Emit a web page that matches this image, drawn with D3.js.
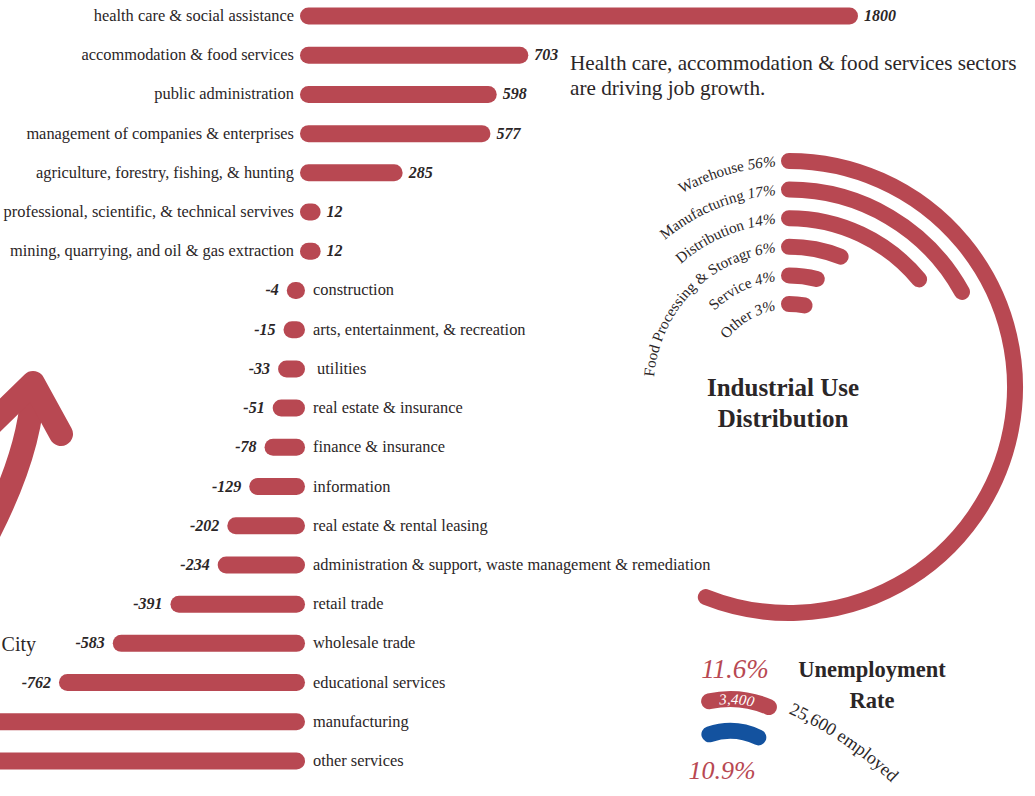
<!DOCTYPE html>
<html>
<head>
<meta charset="utf-8">
<script src="https://cdn.jsdelivr.net/npm/d3@7"></script>
<style>
  html, body { margin: 0; padding: 0; background: #fff; }
  svg { display: block; font-family: "Liberation Serif", "Times New Roman", serif; }
</style>
</head>
<body>
<svg id="chart" width="1035" height="796"></svg>
<script>
// Net job change by sector
const sectors = [
  "health care & social assistance",
  "accommodation & food services",
  "public administration",
  "management of companies & enterprises",
  "agriculture, forestry, fishing, & hunting",
  "professional, scientific, & technical servives",
  "mining, quarrying, and oil & gas extraction",
  "construction",
  "arts, entertainment, & recreation",
  " utilities",
  "real estate & insurance",
  "finance & insurance",
  "information",
  "real estate & rental leasing",
  "administration & support, waste management & remediation",
  "retail trade",
  "wholesale trade",
  "educational services",
  "manufacturing",
  "other services"
];
const jobChange = [1800, 703, 598, 577, 285, 12, 12, -4, -15, -33, -51, -78, -129, -202, -234, -391, -583, -762, -1150, -1400];

// Industrial use distribution
const useTypes = ["Warehouse", "Manufacturing", "Distribution", "Food Processing & Storagr", "Service", "Other"];
const useShare = [56, 17, 14, 6, 4, 3];

// Unemployment
const rateLabels = ["11.6%", "10.9%"];
const unemployedCount = "3,400";
const employedCount = "25,600 employed";

const RED = "#b84852", BLUE = "#13529f", INK = "#2b2627";
const svg = d3.select("#chart");

// ---------- sector bars ----------
const rowY = d3.scalePoint().domain(sectors).range([16, 761]);
const len = d3.scaleLinear().domain([0, 1800]).range([0, 541]);
const barH = 17, posX = 300, negX = 305;

const rowData = sectors.map((s, i) => ({ s, v: jobChange[i] }));
const rows = svg.append("g").selectAll("g").data(rowData).join("g")
  .attr("transform", d => `translate(0,${rowY(d.s)})`);

rows.append("rect")
  .attr("x", d => d.v >= 0 ? posX : negX - barH - len(-d.v))
  .attr("y", -barH / 2)
  .attr("height", barH)
  .attr("width", d => barH + len(Math.abs(d.v)))
  .attr("rx", barH / 2)
  .attr("fill", RED);

rows.append("text")
  .attr("x", d => d.v >= 0 ? 294 : 313)
  .attr("y", 5)
  .attr("text-anchor", d => d.v >= 0 ? "end" : "start")
  .style("white-space", "pre")
  .attr("font-size", 16.4)
  .attr("fill", INK)
  .text(d => d.s);

rows.append("text")
  .attr("x", d => d.v >= 0 ? posX + barH + len(d.v) + 6 : negX - barH - len(-d.v) - 8)
  .attr("y", 5)
  .attr("text-anchor", d => d.v >= 0 ? "start" : "end")
  .attr("font-size", 16)
  .attr("font-style", "italic")
  .attr("font-weight", "bold")
  .attr("fill", INK)
  .text(d => d.v);

// headline
const head = svg.append("text").attr("x", 570).attr("y", 70)
  .attr("font-size", 21.2).attr("fill", INK);
head.append("tspan").attr("x", 570).text("Health care, accommodation & food services sectors");
head.append("tspan").attr("x", 570).attr("dy", 25).text("are driving job growth.");

// ---------- growth arrow ----------
const arrow = svg.append("g").attr("fill", "none").attr("stroke", RED)
  .attr("stroke-width", 24).attr("stroke-linecap", "round").attr("stroke-linejoin", "round");
const shaft = d3.path();
shaft.moveTo(-15, 540); shaft.quadraticCurveTo(32, 450, 33, 385);
arrow.append("path").attr("d", shaft.toString());
const head2 = d3.path();
head2.moveTo(-8, 423); head2.lineTo(33, 383); head2.lineTo(61, 434);
arrow.append("path").attr("d", head2.toString());

svg.append("text").attr("x", 36).attr("y", 651).attr("text-anchor", "end")
  .attr("font-size", 20).attr("fill", INK).text("City");

// ---------- industrial use rings ----------
const cx = 789, cy = 387;
const angle = d3.scaleLinear().domain([0, 100]).range([0, 2 * Math.PI]);
const ringR = d3.scalePoint().domain(useTypes).range([226, 83]);

function arcD(x, y, r, a0, a1) {
  const p = d3.path();
  p.arc(x, y, r, a0 - Math.PI / 2, a1 - Math.PI / 2, a1 < a0);
  return p.toString();
}

const ringData = useTypes.map((t, i) => ({ t, p: useShare[i], i }));
const defs = svg.append("defs");
const rings = svg.append("g");
rings.selectAll("path").data(ringData).join("path")
  .attr("d", d => arcD(cx, cy, ringR(d.t), 0, angle(d.p)))
  .attr("fill", "none").attr("stroke", RED).attr("stroke-width", 16)
  .attr("stroke-linecap", "round");

defs.selectAll("path").data(ringData).join("path")
  .attr("id", d => "ring-label-" + d.i)
  .attr("d", d => {
    const rb = ringR(d.t) - 5;
    return arcD(cx, cy, rb, -2.6, -13 / rb);
  });

const ringLabels = svg.append("g").selectAll("text").data(ringData).join("text")
  .attr("font-size", 15.2).attr("fill", INK);
const tp = ringLabels.append("textPath")
  .attr("href", d => "#ring-label-" + d.i)
  .attr("startOffset", "100%").attr("text-anchor", "end");
tp.append("tspan").text(d => d.t + " ");
tp.append("tspan").attr("font-style", "italic").text(d => d.p + "%");

const ttl = svg.append("text").attr("text-anchor", "middle").attr("font-size", 25)
  .attr("font-weight", "bold").attr("fill", INK);
ttl.append("tspan").attr("x", 783).attr("y", 396).text("Industrial Use");
ttl.append("tspan").attr("x", 783).attr("y", 427).text("Distribution");

// ---------- unemployment ----------
const ux = 730, uy = 797;
const deg = d3.scaleLinear().domain([0, 360]).range([0, 2 * Math.PI]);
svg.append("path").attr("d", arcD(ux, uy, 98, deg(-12.3), deg(23.4)))
  .attr("fill", "none").attr("stroke", RED).attr("stroke-width", 16).attr("stroke-linecap", "round");
svg.append("path").attr("d", arcD(ux, uy, 66, deg(-18.2), deg(25.4)))
  .attr("fill", "none").attr("stroke", BLUE).attr("stroke-width", 16).attr("stroke-linecap", "round");

defs.append("path").attr("id", "unemp-path").attr("d", arcD(ux, uy, 93, deg(-20), deg(30)));
svg.append("text").attr("font-size", 15).attr("font-style", "italic").attr("fill", "#fff")
  .append("textPath").attr("href", "#unemp-path").attr("startOffset", "48%")
  .attr("text-anchor", "middle").text(unemployedCount);

defs.append("path").attr("id", "emp-path").attr("d", arcD(641, 1044, 362, deg(24), deg(52)));
svg.append("text").attr("font-size", 18).attr("fill", INK)
  .append("textPath").attr("href", "#emp-path").attr("startOffset", "0%")
  .text(employedCount);

svg.append("text").attr("x", 735).attr("y", 678).attr("text-anchor", "middle")
  .attr("font-size", 27).attr("font-style", "italic").attr("fill", RED).text(rateLabels[0]);
svg.append("text").attr("x", 722).attr("y", 779).attr("text-anchor", "middle")
  .attr("font-size", 26).attr("font-style", "italic").attr("fill", RED).text(rateLabels[1]);

const ut = svg.append("text").attr("text-anchor", "middle").attr("font-size", 22.5)
  .attr("font-weight", "bold").attr("fill", INK);
ut.append("tspan").attr("x", 872).attr("y", 677).text("Unemployment");
ut.append("tspan").attr("x", 872).attr("y", 708).text("Rate");
</script>
</body>
</html>
